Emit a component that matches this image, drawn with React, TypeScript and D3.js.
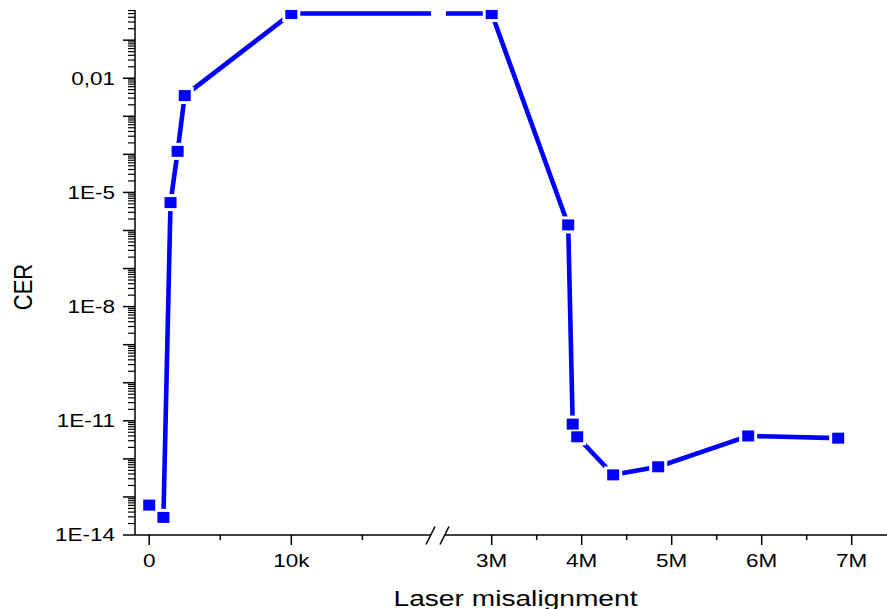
import React from 'react';
import * as d3 from 'd3';

// misalignment values (left panel: units, right panel: millions)
const misalignment = [0, 1000, 1500, 2000, 2500, 10000, 3000000, 3850000, 3900000, 3950000, 4350000, 4850000, 5850000, 6850000];
const cer = [6.1e-14, 2.9e-14, 5.4e-6, 1.2e-4, 3.5e-3, 0.5, 0.5, 1.4e-6, 8.2e-12, 3.8e-12, 3.8e-13, 6.2e-13, 4.0e-12, 3.5e-12];

const leftMajor = [0, 10000];
const leftMajorLabels = ['0', '10k'];
const leftMinor = [5000, 15000];
const rightMajor = [3000000, 4000000, 5000000, 6000000, 7000000];
const rightMajorLabels = ['3M', '4M', '5M', '6M', '7M'];
const rightMinor = [3500000, 4500000, 5500000, 6500000];
const yLabelValues = [1e-14, 1e-11, 1e-8, 1e-5, 1e-2];
const yLabels = ['1E-14', '1E-11', '1E-8', '1E-5', '0,01'];

const W = 887;
const H = 609;
const top = 10;
const bottom = 535;
const left = 135;
const breakL = 431;
const breakR = 446;
const right = 887;
const blue = '#0000ff';
const font = 'Liberation Sans, Arial, sans-serif';
const stretch = 1.25;

export default function App() {
  const xL = d3.scaleLinear().domain([-1000, 19900]).range([left, breakL + 1]);
  const xR = d3.scaleLinear().domain([2500000, 7400000]).range([breakR + 0.7, right + 0.7]);
  const y = d3.scaleLog().domain([1e-14, 0.62]).range([bottom, top]);

  const pts = misalignment.map((m, i) => ({ m, v: cer[i] }));
  const splitAt = 19900;

  const lineL = d3.line<{ m: number; v: number }>().x((d) => xL(d.m)).y((d) => y(d.v));
  const lineR = d3.line<{ m: number; v: number }>().x((d) => xR(d.m)).y((d) => y(d.v));

  const px = (d: { m: number }) => (d.m < splitAt ? xL(d.m) : xR(d.m));

  // y ticks
  const majorY: number[] = [];
  const minorY: number[] = [];
  for (let e = -14; e <= 0; e++) {
    const base = Math.pow(10, e);
    if (base <= 0.62) majorY.push(base);
    for (let k = 2; k <= 9; k++) {
      const v = k * base;
      if (v <= 0.62) minorY.push(v);
    }
  }

  const ms = 12;
  const mh = 11;
  const halo = 3;

  return (
    <svg width={W} height={H} style={{ position: 'absolute', left: 0, top: 0, background: '#fff' }}>
      <defs>
        <clipPath id="clipL">
          <rect x={left} y={top} width={breakL - left} height={bottom - top + 20} />
        </clipPath>
        <clipPath id="clipR">
          <rect x={breakR} y={top} width={right - breakR} height={bottom - top + 20} />
        </clipPath>
        <clipPath id="clipPlot">
          <rect x={left} y={top} width={right - left} height={bottom - top + 20} />
        </clipPath>
      </defs>
      <rect width={W} height={H} fill="#fff" />

      {/* data lines */}
      <path d={lineL(pts) || ''} fill="none" stroke={blue} strokeWidth={4.6} clipPath="url(#clipL)" />
      <path d={lineR(pts) || ''} fill="none" stroke={blue} strokeWidth={4.6} clipPath="url(#clipR)" />

      {/* markers */}
      <g clipPath="url(#clipPlot)">
        {pts.map((d, i) => (
          <rect key={'h' + i} x={px(d) - ms / 2 - halo} y={y(d.v) - mh / 2 - halo} width={ms + 2 * halo} height={mh + 2 * halo} fill="#fff" />
        ))}
        {pts.map((d, i) => (
          <rect key={'m' + i} x={px(d) - ms / 2} y={y(d.v) - mh / 2} width={ms} height={mh} fill={blue} />
        ))}
      </g>

      {/* y axis */}
      <g stroke="#000" strokeWidth={1.5}>
        <line x1={left} y1={top} x2={left} y2={bottom} />
        {majorY.map((v, i) => (
          <line key={'ym' + i} x1={left - 12} x2={left} y1={y(v)} y2={y(v)} />
        ))}
        {minorY.map((v, i) => (
          <line key={'yn' + i} x1={left - 7} x2={left} y1={y(v)} y2={y(v)} strokeWidth={1.2} />
        ))}
      </g>
      {yLabelValues.map((v, i) => (
        <text key={'yl' + i} transform={`translate(115,${y(v)}) scale(${stretch},1)`} dy="0.36em" textAnchor="end" fontFamily={font} fontSize={18} fill="#000">
          {yLabels[i]}
        </text>
      ))}

      {/* x axis */}
      <g stroke="#000" strokeWidth={1.5}>
        <line x1={left} y1={bottom} x2={breakL} y2={bottom} />
        <line x1={breakR - 1} y1={bottom} x2={right} y2={bottom} />
        <line x1={breakL - 5} y1={bottom + 9.5} x2={breakL + 4} y2={bottom - 8.5} />
        <line x1={breakR - 6} y1={bottom + 9.5} x2={breakR + 3} y2={bottom - 8.5} />
        {leftMajor.map((v, i) => (
          <line key={'xlm' + i} x1={xL(v)} x2={xL(v)} y1={bottom} y2={bottom + 10} />
        ))}
        {leftMinor.map((v, i) => (
          <line key={'xln' + i} x1={xL(v)} x2={xL(v)} y1={bottom} y2={bottom + 5} />
        ))}
        {rightMajor.map((v, i) => (
          <line key={'xrm' + i} x1={xR(v)} x2={xR(v)} y1={bottom} y2={bottom + 10} />
        ))}
        {rightMinor.map((v, i) => (
          <line key={'xrn' + i} x1={xR(v)} x2={xR(v)} y1={bottom} y2={bottom + 5} />
        ))}
      </g>
      {leftMajor.map((v, i) => (
        <text key={'xll' + i} transform={`translate(${xL(v)},567) scale(${stretch},1)`} textAnchor="middle" fontFamily={font} fontSize={18} fill="#000">
          {leftMajorLabels[i]}
        </text>
      ))}
      {rightMajor.map((v, i) => (
        <text key={'xrl' + i} transform={`translate(${xR(v)},567) scale(${stretch},1)`} textAnchor="middle" fontFamily={font} fontSize={18} fill="#000">
          {rightMajorLabels[i]}
        </text>
      ))}

      {/* axis titles */}
      <text transform={`translate(515.5,606) scale(1.28,1)`} textAnchor="middle" fontFamily={font} fontSize={22} fill="#000">
        Laser misalignment
      </text>
      <text transform={`translate(32,287) scale(1.15,1) rotate(-90)`} textAnchor="middle" fontFamily={font} fontSize={22} fill="#000">
        CER
      </text>
    </svg>
  );
}
